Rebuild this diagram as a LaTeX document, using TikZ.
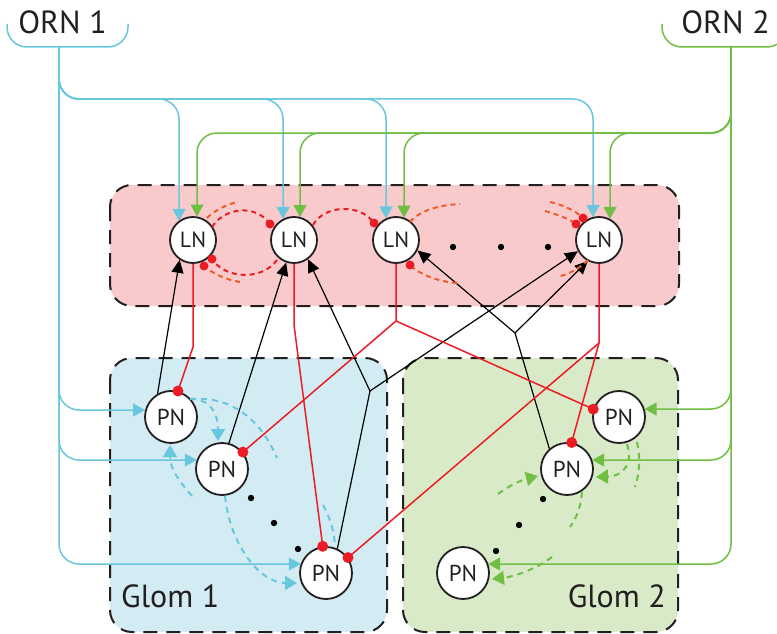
\documentclass[tikz,border=0pt]{standalone}
\usepackage{fontspec}
\setmainfont{PT Sans}
\usetikzlibrary{arrows.meta,calc}
\definecolor{cyanL}{RGB}{104,199,220}
\definecolor{greenL}{RGB}{112,190,68}
\definecolor{redC}{RGB}{237,28,36}
\definecolor{orangeC}{RGB}{241,90,41}
\definecolor{boxC}{RGB}{35,31,32}
\definecolor{pinkF}{RGB}{249,202,204}
\definecolor{blueF}{RGB}{211,236,243}
\definecolor{greenF}{RGB}{217,234,200}
\begin{document}
\begin{tikzpicture}[x=1pt,y=-1pt,
  neuron/.style={circle, draw=boxC, line width=1.8pt, fill=white, inner sep=0pt, text=boxC},
  lnnode/.style={neuron, minimum size=46pt, font=\fontsize{22}{24}\selectfont},
  pnnode/.style={neuron, minimum size=52pt, font=\fontsize{23}{25}\selectfont},
  dashbox/.style={draw=boxC, line width=2pt, dash pattern=on 14pt off 9pt, rounded corners=22pt},
  cyl/.style={draw=cyanL, line width=1.5pt, rounded corners=20pt},
  grl/.style={draw=greenL, line width=1.5pt, rounded corners=20pt},
  cyarr/.style={cyl, -{Triangle[length=12pt,width=13pt]}},
  grarr/.style={grl, -{Triangle[length=12pt,width=13pt]}},
  blkl/.style={draw=black, line width=1.2pt},
  blk/.style={blkl, -{Triangle[length=13pt,width=12pt]}},
  redl/.style={draw=redC, line width=1.5pt},
  rdash/.style={draw=redC, line width=2pt, dash pattern=on 5pt off 4pt},
  odash/.style={draw=orangeC, line width=2pt, dash pattern=on 5pt off 4pt},
  cdash/.style={draw=cyanL, line width=2pt, dash pattern=on 6pt off 5pt},
  gdash/.style={draw=greenL, line width=2pt, dash pattern=on 6pt off 5pt},
  dtip/.style={-{Triangle[length=12pt,width=14pt]}},
  lbl/.style={text=boxC, font=\fontsize{32}{36}\selectfont}
]
\useasboundingbox (0,0) rectangle (777,634);

% boxes
\fill[pinkF, rounded corners=22pt] (110,185) rectangle (679,306);
\draw[dashbox] (110,185) rectangle (679,306);
\fill[blueF, rounded corners=22pt] (110,358) rectangle (387,632);
\draw[dashbox] (110,358) rectangle (387,632);
\fill[greenF, rounded corners=22pt] (403,358) rectangle (678,632);
\draw[dashbox] (403,358) rectangle (678,632);

% labels
\node[lbl, anchor=base] (orn1) at (62.5,34) {ORN 1};
\node[lbl, anchor=base] (orn2) at (725.5,34) {ORN 2};
\node[lbl, anchor=base west, inner sep=0pt] (g1) at (121,607) {Glom 1};
\node[lbl, anchor=base east, inner sep=0pt] (g2) at (666,607) {Glom 2};

% brackets
\draw[cyl] (7,24) -- (7,47) -- (128,47) -- (128,24);
\draw[grl] (662,24) -- (662,47) -- (787,47) -- (787,24);
\coordinate (o1) at (59,47);
\coordinate (o2) at (731,47);

% neurons
\node[lnnode] (LN1) at (193,240) {LN};
\node[lnnode] (LN2) at (294,240) {LN};
\node[lnnode] (LN3) at (396,240) {LN};
\node[lnnode] (LN4) at (599,240) {LN};
\node[pnnode] (P1) at (171,417) {PN};
\node[pnnode] (P2) at (222,469) {PN};
\node[pnnode] (P3) at (326,573) {PN};
\node[pnnode] (P4) at (619,417) {PN};
\node[pnnode] (P5) at (567,469) {PN};
\node[pnnode] (P6) at (463,573) {PN};

% ORN 1 inputs
\draw[cyarr] (o1) -- (59,564) -- ($(P3)+(-25.2,-9)$);
\draw[cyarr] (o1) -- (59,460) -- ($(P2)+(-25.2,-9)$);
\draw[cyarr] (o1) -- (59,410) -- ($(P1)+(-25.9,-7)$);
\draw[cyarr] (o1) -- (59,99) -- (593,99) -- ($(LN4)+(-6,-23)$);
\draw[cyarr] (o1) -- (59,99) -- (386,99) -- ($(LN3)+(-10,-21.6)$);
\draw[cyarr] (o1) -- (59,99) -- (283,99) -- ($(LN2)+(-11,-21.1)$);
\draw[cyarr] (o1) -- (59,99) -- (179,99) -- ($(LN1)+(-14,-19.2)$);

% ORN 2 inputs
\draw[grarr] (o2) -- (731,564) -- ($(P6)+(25.2,-9)$);
\draw[grarr] (o2) -- (731,460) -- ($(P5)+(25.2,-9)$);
\draw[grarr] (o2) -- (731,409) -- ($(P4)+(25.6,-8)$);
\draw[grarr] (o2) -- (731,133) -- (197,133) -- ($(LN1)+(4,-23.5)$);
\draw[grarr] (o2) -- (731,133) -- (300,133) -- ($(LN2)+(6,-23)$);
\draw[grarr] (o2) -- (731,133) -- (404,133) -- ($(LN3)+(8,-22.4)$);
\draw[grarr] (o2) -- (731,133) -- (610,133) -- ($(LN4)+(11,-21.1)$);

% PN -> LN (black)
\coordinate (b1) at (370,391);
\coordinate (b2) at (515,333);
\draw[blk] (P1.120) -- (LN1.236);
\draw[blk] (P2.75) -- (LN2.251);
\draw[blkl] (P3.65) -- (b1);
\draw[blk] (b1) -- (LN2.306);
\draw[blk] (b1) -- (LN4.208);
\draw[blkl] (P5.131) -- (b2);
\draw[blk] (b2) -- (LN3.334);
\draw[blk] (b2) -- (LN4.242);

% LN -> PN (red)
\coordinate (r1) at (193,347);
\coordinate (r2) at (294,325);
\coordinate (r3) at (396,321);
\coordinate (r4) at (599,343);
\draw[redl] (LN1.south) -- (r1) -- (P1.75);
\draw[redl] (LN2.south) -- (r2) -- (P3.97);
\draw[redl] (LN3.south) -- (r3) -- (P2.39);
\draw[redl] (r3) -- (P4.163);
\draw[redl] (LN4.south) -- (r4) -- (P5.80);
\draw[redl] (r4) -- (P3.35);
\fill[redC] (P1.75) circle (5.5);
\fill[redC] (P3.97) circle (5.5);
\fill[redC] (P2.39) circle (5.5);
\fill[redC] (P4.163) circle (5.5);
\fill[redC] (P5.80) circle (5.5);
\fill[redC] (P3.35) circle (5.5);

% LN lateral connections
\draw[rdash] (212,227) .. controls (225,207) and (256,204) .. (270,224);
\fill[redC] (270,224) circle (4.5);
\draw[rdash] (277,260) .. controls (262,281) and (225,279) .. (212,259);
\fill[redC] (212,259) circle (4.5);
\draw[odash] (240,282) .. controls (226,280) and (212,273) .. (204,266);
\fill[redC] (204,266) circle (4.5);
\draw[odash] (207,218) .. controls (215,210) and (226,205) .. (237,202);
\draw[rdash] (313,225) .. controls (324,205) and (360,203) .. (374,223);
\fill[redC] (374,223) circle (4.5);
\draw[odash] (410,222) .. controls (420,210) and (440,205) .. (460,204);
\draw[odash] (457,283) .. controls (440,282) and (420,275) .. (410,265);
\fill[redC] (410,265) circle (4.5);
\draw[odash] (550,202) .. controls (560,204) and (575,210) .. (583,218);
\fill[redC] (583,218) circle (4.5);
\draw[odash] (545,211) .. controls (555,214) and (568,218) .. (576,224);
\fill[redC] (576,224) circle (4.5);
\draw[odash] (588,260) .. controls (580,268) and (570,274) .. (557,277);

% Glom 1 recurrent
\draw[cdash, dtip] (190,399) .. controls (212,399) and (218,415) .. (218,441);
\draw[cdash] (190,399) .. controls (240,395) and (265,430) .. (277,458);
\draw[cdash, dtip] (192,496) .. controls (178,480) and (170,468) .. (170,445);
\draw[cdash, dtip] (225,496) .. controls (230,545) and (260,583) .. (297,583);
\draw[cdash] (323,505) .. controls (330,518) and (334,530) .. (335,546);

% Glom 2 recurrent
\draw[gdash, dtip] (627,444) .. controls (633,462) and (625,476) .. (596,477);
\draw[gdash] (637,442) .. controls (641,460) and (639,475) .. (635,487);
\draw[gdash, dtip] (498,494) .. controls (510,485) and (522,480) .. (538,476);
\draw[gdash] (582,492) .. controls (581,505) and (577,518) .. (570,527);
\draw[gdash, dtip] (552,557) .. controls (535,570) and (512,577) .. (492,579);

% ellipsis dots
\foreach \p in {(453,247),(501,247),(548,247),(251,498),(274,523),(298,549),(543,499),(519,525),(496,551)}
  \fill[black] \p circle (3.2);
\end{tikzpicture}
\end{document}
